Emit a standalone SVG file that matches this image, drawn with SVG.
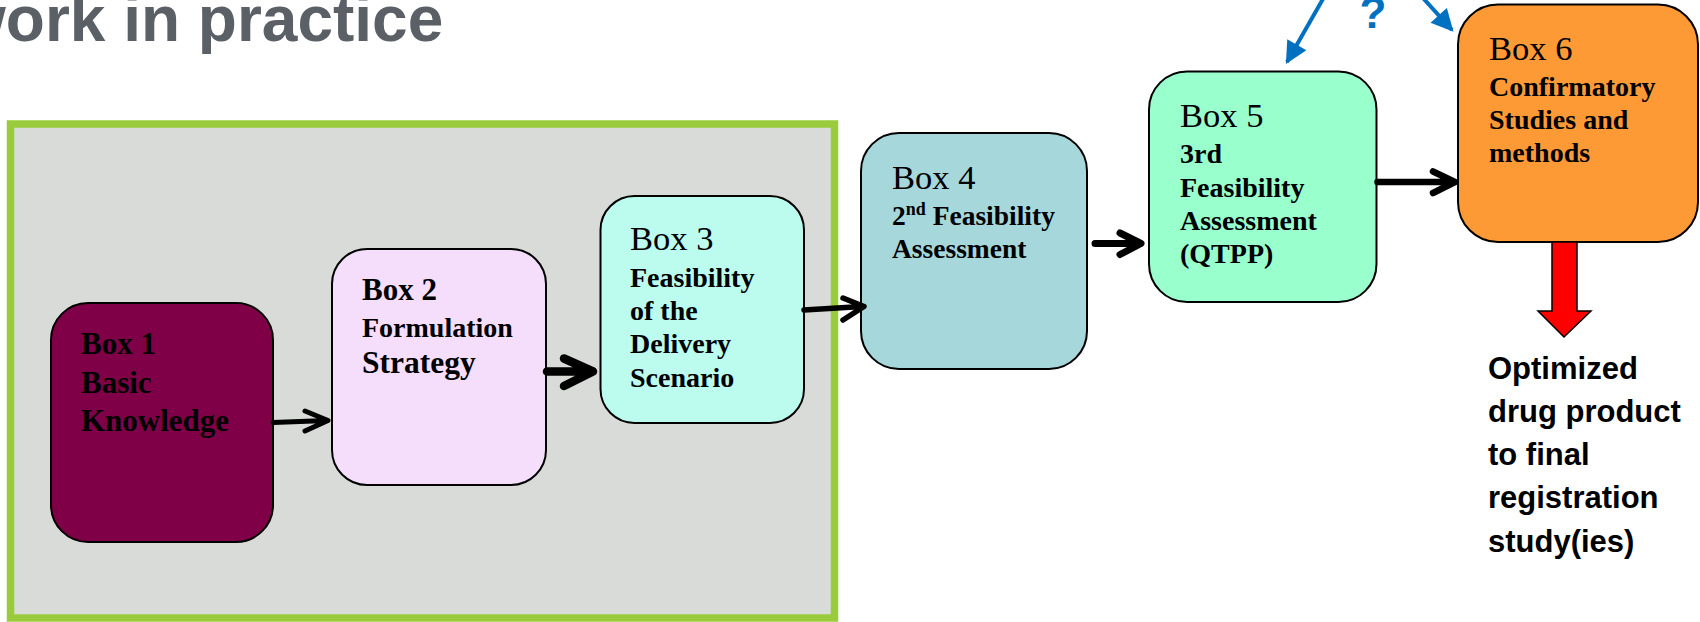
<svg xmlns="http://www.w3.org/2000/svg" width="1700" height="622" viewBox="0 0 1700 622">
  <defs>
    <style>
      .title { font-family: "Liberation Sans", Arial, sans-serif; font-weight: bold; font-size: 64px; fill: #5b6067; }
      .box { stroke: #000; stroke-width: 2; }
      .lbl { font-family: "Liberation Serif", "Times New Roman", serif; fill: #000; }
      .hd { font-size: 34.5px; }
      .hdb { font-size: 31px; font-weight: bold; }
      .b28 { font-size: 28px; font-weight: bold; }
      .link { fill: none; stroke: #000; stroke-linecap: round; stroke-linejoin: round; }
      .blue { fill: none; stroke: #0070c0; stroke-width: 4; }
      .out { font-family: "Liberation Sans", Arial, sans-serif; font-weight: bold; font-size: 31px; fill: #000; }
    </style>
    <marker id="blueHead" viewBox="0 0 10 10" refX="9" refY="5" markerWidth="6" markerHeight="5.5" orient="auto" markerUnits="strokeWidth">
      <path d="M0,0 L10,5 L0,10 Z" fill="#0070c0"/>
    </marker>
  </defs>

  <!-- heading, running off the top-left edge -->
  <text class="title" x="-44" y="41">work in practice</text>

  <!-- grey panel with green frame around the first three steps -->
  <rect id="panel" x="10.5" y="124" width="824" height="494" fill="#d9dbd8" stroke="#9acb3c" stroke-width="7.5"/>

  <g id="box1">
    <rect class="box" x="51" y="303" width="222" height="239" rx="37" fill="#7f0047"/>
    <text class="lbl hdb" x="81" y="354">Box 1</text>
    <text class="lbl hdb" x="81" y="393">Basic</text>
    <text class="lbl hdb" x="81" y="431">Knowledge</text>
  </g>

  <g id="box2">
    <rect class="box" x="332" y="249" width="214" height="236" rx="35" fill="#f4defc"/>
    <text class="lbl hdb" x="362" y="300">Box 2</text>
    <text class="lbl b28" x="362" y="337">Formulation</text>
    <text class="lbl" x="362" y="373" font-size="31.5" font-weight="bold">Strategy</text>
  </g>

  <g id="box3">
    <rect class="box" x="600.5" y="196" width="203.5" height="227" rx="34" fill="#bbfcef"/>
    <text class="lbl hd" x="630" y="250">Box 3</text>
    <text class="lbl b28" x="630" y="287">Feasibility</text>
    <text class="lbl b28" x="630" y="320">of the</text>
    <text class="lbl b28" x="630" y="353">Delivery</text>
    <text class="lbl b28" x="630" y="387">Scenario</text>
  </g>

  <g id="box4">
    <rect class="box" x="861" y="133" width="226" height="236" rx="38" fill="#a6d7da"/>
    <text class="lbl hd" x="892" y="189">Box 4</text>
    <text class="lbl" x="892" y="225" font-size="27.5" font-weight="bold">2<tspan font-size="18" dy="-10">nd</tspan><tspan dy="10"> Feasibility</tspan></text>
    <text class="lbl" x="892" y="258" font-size="27.5" font-weight="bold">Assessment</text>
  </g>

  <g id="box5">
    <rect class="box" x="1149" y="71.5" width="227.5" height="230.5" rx="38" fill="#99ffcc"/>
    <text class="lbl hd" x="1180" y="127">Box 5</text>
    <text class="lbl b28" x="1180" y="163">3rd</text>
    <text class="lbl b28" x="1180" y="197">Feasibility</text>
    <text class="lbl b28" x="1180" y="230">Assessment</text>
    <text class="lbl b28" x="1180" y="263">(QTPP)</text>
  </g>

  <g id="box6">
    <rect class="box" x="1458" y="4.5" width="240" height="237.5" rx="40" fill="#fd9a36"/>
    <text class="lbl hd" x="1489" y="60">Box 6</text>
    <text class="lbl b28" x="1489" y="96">Confirmatory</text>
    <text class="lbl b28" x="1489" y="129">Studies and</text>
    <text class="lbl b28" x="1489" y="162">methods</text>
  </g>

  <g id="outcome">
    <polygon points="1552,242 1577,242 1577,311 1591,311 1564,337 1538,311 1552,311" fill="#ff0000" stroke="#000" stroke-width="1.5" stroke-linejoin="miter"/>
    <text class="out" x="1488" y="379">Optimized</text>
    <text class="out" x="1488" y="422">drug product</text>
    <text class="out" x="1488" y="465">to final</text>
    <text class="out" x="1488" y="508">registration</text>
    <text class="out" x="1488" y="552">study(ies)</text>
  </g>

  <g id="connectors">
    <!-- Box 1 to Box 2 -->
    <path class="link" stroke-width="5" d="M273,422.5 L327,420.5 M305,411 L328,420.5 L305,431"/>
    <!-- Box 2 to Box 3 -->
    <path class="link" stroke-width="8.5" d="M547,371.5 L592,371.5 M564,358.5 L593,371.5 L564,386"/>
    <!-- Box 3 to Box 4 -->
    <path class="link" stroke-width="5.5" d="M804,310 L862,306.5 M843,298 L864,306.5 L843,320"/>
    <!-- Box 4 to Box 5 -->
    <path class="link" stroke-width="7" d="M1095,243.5 L1140,243.5 M1120,233 L1141,243.5 L1120,254.5"/>
    <!-- Box 5 to Box 6 -->
    <path class="link" stroke-width="6.5" d="M1377.5,182 L1454,182 M1433,171.5 L1455,182 L1433,193"/>
    <!-- open question feeding back into Box 5 and Box 6 -->
    <path class="blue" d="M1323.5,-2 L1287,62" marker-end="url(#blueHead)"/>
    <path class="blue" d="M1423,-2 L1452,30" marker-end="url(#blueHead)"/>
    <text x="1373" y="28" text-anchor="middle" font-family="Liberation Sans, Arial, sans-serif" font-weight="bold" font-size="44" fill="#0070c0">?</text>
  </g>
</svg>
